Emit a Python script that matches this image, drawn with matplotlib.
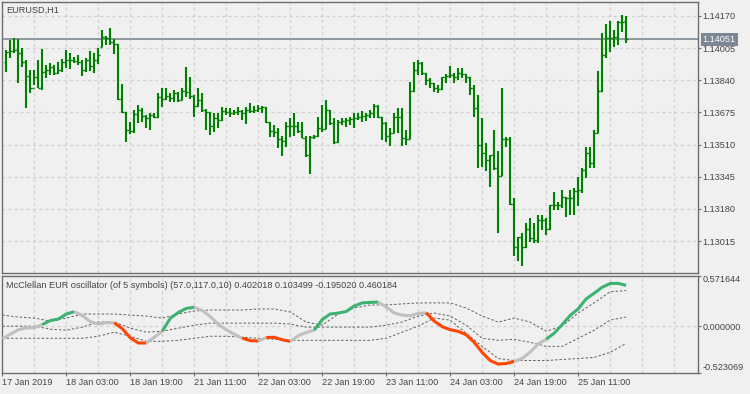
import numpy as np
import matplotlib.pyplot as plt

plt.rcParams['font.family'] = ['Liberation Sans', 'DejaVu Sans']

# EURUSD H1 bars (first visible bar = 17 Jan 12:00)
bar_high = [1.13996, 1.14047, 1.14057, 1.14052, 1.14006, 1.13944, 1.13893, 1.13893, 1.13944, 1.14001,
            1.13919, 1.13929, 1.13919, 1.13934, 1.13949, 1.13996, 1.13980, 1.13960, 1.13970, 1.13944,
            1.13954, 1.13990, 1.13980, 1.14006, 1.14098, 1.14067, 1.14108, 1.14052, 1.14026, 1.13821,
            1.13677, 1.13626, 1.13688, 1.13713, 1.13698, 1.13662, 1.13672, 1.13672, 1.13775, 1.13801,
            1.13801, 1.13775, 1.13790, 1.13780, 1.13801, 1.13908, 1.13857, 1.13765, 1.13801, 1.13775,
            1.13693, 1.13677, 1.13672, 1.13672, 1.13703, 1.13698, 1.13698, 1.13688, 1.13703, 1.13688,
            1.13703, 1.13724, 1.13708, 1.13713, 1.13708, 1.13703, 1.13626, 1.13611, 1.13595, 1.13554,
            1.13626, 1.13646, 1.13672, 1.13626, 1.13626, 1.13554, 1.13554, 1.13559, 1.13652, 1.13713,
            1.13739, 1.13688, 1.13646, 1.13636, 1.13646, 1.13646, 1.13652, 1.13672, 1.13672, 1.13682,
            1.13672, 1.13688, 1.13718, 1.13713, 1.13652, 1.13626, 1.13595, 1.13672, 1.13698, 1.13698,
            1.13585, 1.13831, 1.13934, 1.13944, 1.13934, 1.13877, 1.13852, 1.13826, 1.13816, 1.13857,
            1.13872, 1.13914, 1.13877, 1.13903, 1.13903, 1.13872, 1.13857, 1.13816, 1.13765, 1.13646,
            1.13518, 1.13457, 1.13585, 1.13477, 1.13801, 1.13549, 1.13549, 1.13236, 1.13036, 1.13057,
            1.13108, 1.13134, 1.13108, 1.13149, 1.13149, 1.13134, 1.13200, 1.13267, 1.13215, 1.13277,
            1.13241, 1.13277, 1.13287, 1.13344, 1.13390, 1.13498, 1.13498, 1.13585, 1.13888, 1.14083,
            1.14129, 1.14144, 1.14098, 1.14144, 1.14175, 1.14170]
bar_low = [1.13883, 1.13954, 1.13980, 1.13826, 1.13908, 1.13698, 1.13775, 1.13816, 1.13801, 1.13790,
           1.13852, 1.13867, 1.13867, 1.13872, 1.13883, 1.13903, 1.13898, 1.13929, 1.13919, 1.13862,
           1.13883, 1.13888, 1.13877, 1.13924, 1.14011, 1.14021, 1.14021, 1.13975, 1.13739, 1.13672,
           1.13523, 1.13564, 1.13570, 1.13621, 1.13626, 1.13595, 1.13585, 1.13646, 1.13646, 1.13703,
           1.13739, 1.13729, 1.13729, 1.13729, 1.13739, 1.13755, 1.13744, 1.13652, 1.13703, 1.13677,
           1.13585, 1.13559, 1.13575, 1.13595, 1.13631, 1.13662, 1.13652, 1.13662, 1.13662, 1.13636,
           1.13616, 1.13672, 1.13672, 1.13677, 1.13672, 1.13621, 1.13549, 1.13549, 1.13493, 1.13452,
           1.13498, 1.13549, 1.13554, 1.13570, 1.13544, 1.13447, 1.13359, 1.13539, 1.13549, 1.13575,
           1.13590, 1.13611, 1.13513, 1.13518, 1.13611, 1.13600, 1.13611, 1.13595, 1.13636, 1.13626,
           1.13631, 1.13646, 1.13646, 1.13646, 1.13534, 1.13523, 1.13503, 1.13570, 1.13570, 1.13503,
           1.13508, 1.13539, 1.13780, 1.13867, 1.13867, 1.13816, 1.13801, 1.13780, 1.13775, 1.13790,
           1.13826, 1.13852, 1.13826, 1.13842, 1.13852, 1.13826, 1.13765, 1.13652, 1.13390, 1.13395,
           1.13375, 1.13293, 1.13380, 1.13057, 1.13349, 1.13498, 1.13200, 1.12938, 1.12913, 1.12887,
           1.12980, 1.13010, 1.13005, 1.13005, 1.13072, 1.13046, 1.13072, 1.13174, 1.13174, 1.13185,
           1.13139, 1.13149, 1.13149, 1.13195, 1.13262, 1.13339, 1.13390, 1.13390, 1.13570, 1.13780,
           1.13954, 1.13985, 1.14011, 1.14021, 1.14088, 1.14031]
bar_open = [1.13934, 1.13985, 1.13990, 1.13996, 1.13980, 1.13934, 1.13862, 1.13801, 1.13857, 1.13801,
            1.13883, 1.13893, 1.13908, 1.13877, 1.13893, 1.13934, 1.13944, 1.13944, 1.13939, 1.13934,
            1.13893, 1.13944, 1.13914, 1.13944, 1.14011, 1.14062, 1.14057, 1.14037, 1.14026, 1.13744,
            1.13677, 1.13585, 1.13580, 1.13667, 1.13688, 1.13657, 1.13646, 1.13662, 1.13652, 1.13755,
            1.13744, 1.13760, 1.13749, 1.13775, 1.13739, 1.13785, 1.13780, 1.13760, 1.13708, 1.13739,
            1.13688, 1.13677, 1.13605, 1.13646, 1.13636, 1.13682, 1.13677, 1.13672, 1.13677, 1.13682,
            1.13672, 1.13688, 1.13682, 1.13688, 1.13698, 1.13703, 1.13626, 1.13580, 1.13575, 1.13539,
            1.13529, 1.13605, 1.13605, 1.13605, 1.13580, 1.13544, 1.13457, 1.13549, 1.13554, 1.13595,
            1.13590, 1.13688, 1.13621, 1.13523, 1.13626, 1.13631, 1.13636, 1.13641, 1.13646, 1.13652,
            1.13657, 1.13662, 1.13672, 1.13708, 1.13652, 1.13621, 1.13554, 1.13570, 1.13652, 1.13652,
            1.13544, 1.13539, 1.13785, 1.13893, 1.13929, 1.13877, 1.13842, 1.13826, 1.13801, 1.13796,
            1.13857, 1.13862, 1.13867, 1.13857, 1.13877, 1.13872, 1.13857, 1.13801, 1.13698, 1.13508,
            1.13467, 1.13431, 1.13457, 1.13390, 1.13349, 1.13539, 1.13539, 1.13205, 1.12985, 1.13036,
            1.12985, 1.13077, 1.13031, 1.13020, 1.13123, 1.13123, 1.13077, 1.13200, 1.13200, 1.13200,
            1.13241, 1.13236, 1.13236, 1.13272, 1.13277, 1.13380, 1.13467, 1.13416, 1.13570, 1.13785,
            1.13970, 1.14057, 1.14057, 1.14062, 1.14139, 1.14144]
bar_close = [1.13985, 1.13990, 1.13996, 1.13980, 1.13934, 1.13862, 1.13801, 1.13857, 1.13801, 1.13883,
             1.13893, 1.13908, 1.13877, 1.13893, 1.13934, 1.13944, 1.13944, 1.13939, 1.13934, 1.13893,
             1.13944, 1.13914, 1.13944, 1.13970, 1.14062, 1.14057, 1.14037, 1.14026, 1.13744, 1.13677,
             1.13585, 1.13580, 1.13667, 1.13688, 1.13657, 1.13646, 1.13662, 1.13652, 1.13755, 1.13744,
             1.13760, 1.13749, 1.13775, 1.13739, 1.13785, 1.13780, 1.13760, 1.13708, 1.13739, 1.13688,
             1.13677, 1.13605, 1.13646, 1.13636, 1.13682, 1.13677, 1.13672, 1.13677, 1.13682, 1.13672,
             1.13688, 1.13682, 1.13688, 1.13698, 1.13703, 1.13626, 1.13580, 1.13575, 1.13539, 1.13529,
             1.13605, 1.13605, 1.13605, 1.13580, 1.13544, 1.13457, 1.13549, 1.13554, 1.13595, 1.13590,
             1.13688, 1.13621, 1.13523, 1.13626, 1.13631, 1.13636, 1.13641, 1.13646, 1.13652, 1.13657,
             1.13662, 1.13672, 1.13708, 1.13652, 1.13621, 1.13554, 1.13570, 1.13652, 1.13652, 1.13544,
             1.13539, 1.13785, 1.13893, 1.13929, 1.13877, 1.13842, 1.13826, 1.13801, 1.13796, 1.13857,
             1.13862, 1.13867, 1.13857, 1.13877, 1.13872, 1.13857, 1.13801, 1.13698, 1.13508, 1.13467,
             1.13431, 1.13457, 1.13390, 1.13349, 1.13539, 1.13539, 1.13205, 1.12985, 1.13036, 1.12985,
             1.13077, 1.13031, 1.13020, 1.13123, 1.13123, 1.13077, 1.13200, 1.13200, 1.13200, 1.13241,
             1.13236, 1.13236, 1.13272, 1.13277, 1.13380, 1.13467, 1.13416, 1.13570, 1.13785, 1.13970,
             1.14057, 1.14057, 1.14062, 1.14139, 1.14139, 1.14051]

price_ticks = [1.14170, 1.14005, 1.13840, 1.13675, 1.13510, 1.13345, 1.13180, 1.13015]

# oscillator, one value every 2 bars starting at bar -1
osc = [-0.143, -0.091, -0.040, -0.021, -0.017, 0.017, 0.063, 0.080, 0.137, 0.163,
       0.120, 0.051, 0.023, 0.040, 0.038, -0.028, -0.131, -0.190, -0.190, -0.125,
       -0.057, 0.088, 0.154, 0.200, 0.213, 0.177, 0.108, 0.021, -0.040, -0.091,
       -0.135, -0.163, -0.168, -0.129, -0.125, -0.154, -0.171, -0.108, -0.072, -0.046,
       0.074, 0.137, 0.148, 0.165, 0.228, 0.262, 0.268, 0.271, 0.217, 0.148,
       0.125, 0.117, 0.143, 0.152, 0.057, -0.006, -0.040, -0.059, -0.097, -0.182,
       -0.296, -0.388, -0.428, -0.422, -0.399, -0.365, -0.293, -0.202, -0.148, -0.080,
       0.017, 0.120, 0.194, 0.308, 0.371, 0.439, 0.481, 0.483, 0.460184]
# n = neutral, g = up, r = down (state of the segment ending at each point)
osc_state = ("nnnnnn" "gggg" "nnnnn" "rrrr" "nn" "gggg" "nnnnnn" "rr" "n" "rrr"
             "nnn" "gggggggg" "nnnnnn" "rrrrrrrrrrr" "nnnn" "gggggggggg")

# floating levels, one value every 4 bars starting at bar -1
level_up = [0.125, 0.103, 0.091, 0.057, 0.091, 0.137, 0.137, 0.137, 0.125, 0.114,
            0.091, 0.137, 0.171, 0.182, 0.182, 0.182, 0.194, 0.194, 0.160, 0.046,
            0.011, 0.137, 0.205, 0.239, 0.239, 0.251, 0.262, 0.262, 0.262, 0.205,
            0.114, 0.046, 0.091, 0.046, -0.057, 0.000, 0.148, 0.262, 0.388, 0.402018]
level_mid = [0.000, 0.000, 0.000, -0.034, -0.046, -0.011, 0.046, 0.046, -0.023, -0.068,
             -0.057, -0.023, 0.011, 0.034, 0.034, 0.034, 0.034, 0.034, 0.023, -0.011,
             -0.011, -0.011, -0.011, -0.011, 0.011, 0.046, 0.114, 0.148, 0.114, 0.011,
             -0.137, -0.160, -0.148, -0.182, -0.228, -0.228, -0.137, -0.046, 0.068, 0.103499]
level_dn = [-0.137, -0.137, -0.137, -0.137, -0.137, -0.137, -0.114, -0.068, -0.114, -0.171,
            -0.171, -0.160, -0.137, -0.114, -0.114, -0.125, -0.137, -0.148, -0.160, -0.160,
            -0.160, -0.160, -0.160, -0.160, -0.137, -0.068, 0.000, 0.091, 0.068, -0.080,
            -0.228, -0.365, -0.388, -0.388, -0.388, -0.376, -0.365, -0.353, -0.296, -0.195020]
osc_ticks = [0.571644, 0.0, -0.523069]

time_labels = ['17 Jan 2019', '18 Jan 03:00', '18 Jan 19:00', '21 Jan 11:00', '22 Jan 03:00',
               '22 Jan 19:00', '23 Jan 11:00', '24 Jan 03:00', '24 Jan 19:00', '25 Jan 11:00']
time_label_bars = [-1, 15, 31, 47, 63, 79, 95, 111, 127, 143]

BG = '#f0f0f0'
GRID = '#d2d2d2'
FRAME = '#6e6e6e'
TXT = '#454545'
BARC = '#008000'
FS = 6.6

fig = plt.figure(figsize=(7.5, 3.94), dpi=100, facecolor=BG)
ax = fig.add_axes([2.3 / 750, 1 - 272.5 / 394, 695.4 / 750, 270.5 / 394])
ax2 = fig.add_axes([2.3 / 750, 1 - 372.5 / 394, 695.4 / 750, 97 / 394])

x = np.arange(len(bar_high))
grid_bars = np.arange(7, 172, 8)

for a in (ax, ax2):
    a.set_facecolor(BG)
    a.set_xlim(-1.0, 172.9)
    for s in a.spines.values():
        s.set_color(FRAME)
        s.set_linewidth(1.0)
    for g in grid_bars:
        a.axvline(g, color=GRID, lw=1.0, dashes=(2.2, 2.2), zorder=0)
    a.yaxis.tick_right()
    a.tick_params(axis='y', length=2.2, width=0.8, pad=1.5, colors=FRAME,
                  labelcolor=TXT, labelsize=FS)

# ---- price panel
for p in price_ticks:
    ax.axhline(p, color=GRID, lw=1.0, dashes=(2.2, 2.2), zorder=0)
ax.vlines(x, bar_low, bar_high, color=BARC, lw=1.5, zorder=3)
ax.hlines(bar_open, x - 0.5, x, color=BARC, lw=1.0, zorder=3)
ax.hlines(bar_close, x, x + 0.5, color=BARC, lw=1.0, zorder=3)

last = bar_close[-1]
ax.axhline(last, color='#7f8893', lw=1.2, zorder=2)
ax.set_ylim(1.128536, 1.142418)
ax.set_yticks(price_ticks)
ax.set_yticklabels(['%.5f' % p for p in price_ticks])
ax.tick_params(axis='x', bottom=False, labelbottom=False)
ax.annotate('%.5f' % last, xy=(1.0, last), xycoords=('axes fraction', 'data'),
            xytext=(3.5, 0), textcoords='offset points', va='center', ha='left',
            fontsize=FS, color='white',
            bbox=dict(boxstyle='square,pad=0.22', fc='#7b8794', ec='none'))
ax.text(0.0063, 0.985, 'EURUSD,H1', transform=ax.transAxes, va='top', ha='left',
        fontsize=FS, color=TXT)

# ---- oscillator panel
ax2.axhline(0, color=GRID, lw=1.0, dashes=(2.2, 2.2), zorder=0)
osc_x = np.arange(-1, 156, 2)
lvl_x = np.arange(-1, 156, 4)
for lv in (level_up, level_mid, level_dn):
    ax2.plot(lvl_x, lv, color='#606060', lw=0.7, dashes=(2.5, 2.0), zorder=2)

colors = {'n': '#c0c0c0', 'g': '#3cb371', 'r': '#ff4500'}
i = 1
while i < len(osc):
    st = osc_state[i]
    k = i
    while k + 1 < len(osc) and osc_state[k + 1] == st:
        k += 1
    ax2.plot(osc_x[i - 1:k + 1], osc[i - 1:k + 1], color=colors[st], lw=2.2,
             solid_capstyle='butt', solid_joinstyle='round', zorder=3)
    i = k + 1

ax2.set_ylim(-0.523069, 0.571644)
ax2.set_yticks(osc_ticks)
ax2.set_yticklabels(['%.6f' % v for v in osc_ticks])
labs = ax2.get_yticklabels()
labs[0].set_va('top')
labs[2].set_va('bottom')
ax2.set_xticks(time_label_bars)
ax2.set_xticklabels(time_labels, ha='left')
ax2.tick_params(axis='x', length=2.5, width=0.8, pad=1.5, colors=FRAME,
                labelcolor=TXT, labelsize=FS)
ax2.text(0.0053, 0.90, 'McClellan EUR oscillator (of 5 symbols) (57.0,117.0,10) '
         '0.402018 0.103499 -0.195020 0.460184', transform=ax2.transAxes,
         va='center', ha='left', fontsize=FS, color=TXT)

fig.savefig('out.png', dpi=100, facecolor=BG)
